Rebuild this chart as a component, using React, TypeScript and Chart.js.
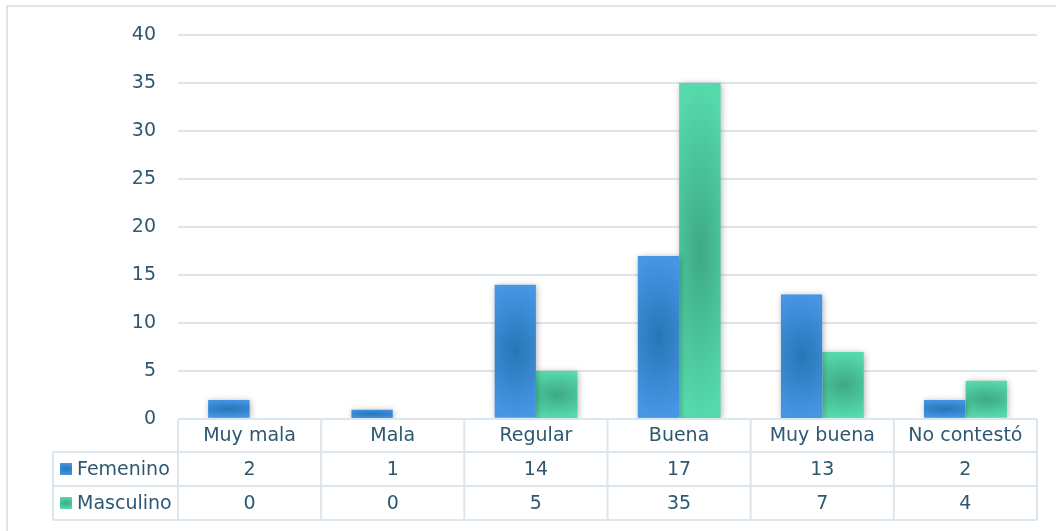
import React, { useEffect, useRef } from "react";
import { Chart, registerables } from "chart.js";

Chart.register(...registerables);

const categories = ["Muy mala", "Mala", "Regular", "Buena", "Muy buena", "No contestó"];
const seriesNames = ["Femenino", "Masculino"];
const femenino = [2, 1, 14, 17, 13, 2];
const masculino = [0, 0, 5, 35, 7, 4];
const yMin = 0;
const yMax = 40;
const yStep = 5;

const TEXT = "#2E5872";
const LINE = "#DCE6EE";
const FONT = "'DejaVu Sans', sans-serif";
const palettes = [
  { light: "#4796E6", dark: "#2676B6" },
  { light: "#56DAAC", dark: "#3DA985" },
];

function makeFill(ctx: CanvasRenderingContext2D, pal: { light: string; dark: string }, left: number, top: number, w: number, h: number) {
  const W = Math.max(1, Math.round(w));
  const H = Math.max(1, Math.round(h));
  const off = document.createElement("canvas");
  off.width = W;
  off.height = H;
  const o = off.getContext("2d")!;
  o.fillStyle = pal.light;
  o.fillRect(0, 0, W, H);
  o.save();
  o.translate(W / 2, H / 2);
  o.scale(W * 0.95, H / 2);
  const g = o.createRadialGradient(0, 0, 0, 0, 0, 1);
  g.addColorStop(0, pal.dark);
  g.addColorStop(1, pal.light);
  o.fillStyle = g;
  o.fillRect(-1, -1, 2, 2);
  o.restore();
  const p = ctx.createPattern(off, "no-repeat")!;
  p.setTransform(new DOMMatrix().translate(left, top));
  return p;
}

const barStylePlugin = {
  id: "barStyle",
  beforeDatasetsDraw(chart: any) {
    const ctx = chart.ctx;
    chart.data.datasets.forEach((_: any, di: number) => {
      const meta = chart.getDatasetMeta(di);
      meta.data.forEach((el: any) => {
        const { x, y, base, width } = el.getProps(["x", "y", "base", "width"], true);
        const top = Math.min(y, base);
        const h = Math.abs(base - y);
        if (h < 0.5) return;
        el.options.backgroundColor = makeFill(ctx, palettes[di], x - width / 2, top, width, h);
      });
    });
    ctx.save();
    ctx.shadowColor = "rgba(0,0,0,0.3)";
    ctx.shadowBlur = 6;
    ctx.shadowOffsetX = 1;
    ctx.shadowOffsetY = 1;
  },
  afterDatasetsDraw(chart: any) {
    chart.ctx.restore();
  },
};

const tablePlugin = {
  id: "dataTable",
  beforeDraw(chart: any) {
    const ctx = chart.ctx;
    ctx.save();
    ctx.strokeStyle = LINE;
    ctx.lineWidth = 2;
    ctx.beginPath();
    ctx.moveTo(7, chart.height);
    ctx.lineTo(7, 6);
    ctx.lineTo(chart.width, 6);
    ctx.stroke();
    ctx.restore();
  },
  afterDraw(chart: any) {
    const ctx = chart.ctx;
    const xs = chart.scales.x;
    const area = chart.chartArea;
    const n = categories.length;
    const colW = (area.right - area.left) / n;
    const rows = [area.bottom, area.bottom + 33, area.bottom + 67, area.bottom + 101];
    const tableLeft = 53;
    ctx.save();
    ctx.strokeStyle = LINE;
    ctx.lineWidth = 2;
    ctx.beginPath();
    ctx.moveTo(area.left, rows[0]);
    ctx.lineTo(area.right, rows[0]);
    for (let r = 1; r < rows.length; r++) {
      ctx.moveTo(tableLeft, rows[r]);
      ctx.lineTo(area.right, rows[r]);
    }
    ctx.moveTo(tableLeft, rows[1]);
    ctx.lineTo(tableLeft, rows[3]);
    for (let i = 0; i <= n; i++) {
      const xx = area.left + i * colW;
      ctx.moveTo(xx, rows[0]);
      ctx.lineTo(xx, rows[3]);
    }
    ctx.stroke();

    ctx.fillStyle = TEXT;
    ctx.font = `19px ${FONT}`;
    ctx.textBaseline = "middle";
    ctx.textAlign = "center";
    categories.forEach((c, i) => {
      const cx = xs.getPixelForValue(i);
      ctx.fillText(c, cx, (rows[0] + rows[1]) / 2 + 1);
    });
    const series = [femenino, masculino];
    series.forEach((vals, si) => {
      const cy = (rows[si + 1] + rows[si + 2]) / 2 + 1;
      vals.forEach((v, i) => {
        ctx.fillStyle = TEXT;
        ctx.textAlign = "center";
        ctx.fillText(String(v), xs.getPixelForValue(i), cy);
      });
      const sq = 12;
      ctx.fillStyle = makeFill(ctx, palettes[si], 60, cy - sq / 2 - 1, sq, sq);
      ctx.fillRect(60, cy - sq / 2 - 1, sq, sq);
      ctx.fillStyle = TEXT;
      ctx.textAlign = "left";
      ctx.fillText(seriesNames[si], 77, cy);
    });
    ctx.restore();
  },
};

export default function App() {
  const ref = useRef<HTMLCanvasElement | null>(null);
  useEffect(() => {
    document.body.style.margin = "0";
    const chart = new Chart(ref.current!, {
      type: "bar",
      data: {
        labels: categories,
        datasets: [
          { label: seriesNames[0], data: femenino, backgroundColor: () => palettes[0].light, borderWidth: 0 },
          { label: seriesNames[1], data: masculino, backgroundColor: () => palettes[1].light, borderWidth: 0 },
        ],
      },
      options: {
        responsive: false,
        animation: false,
        devicePixelRatio: 1,
        categoryPercentage: 0.58,
        barPercentage: 1,
        layout: { padding: { left: 0, top: 35, right: 19, bottom: 112 } },
        plugins: { legend: { display: false }, tooltip: { enabled: false } },
        scales: {
          x: { display: false },
          y: {
            min: yMin,
            max: yMax,
            afterFit: (s: any) => {
              s.width = 178;
            },
            ticks: { stepSize: yStep, padding: 22, color: TEXT, font: { family: FONT, size: 19 } },
            grid: { color: LINE, lineWidth: 2, drawTicks: false },
            border: { display: false },
          },
        },
      },
      plugins: [barStylePlugin, tablePlugin],
    } as any);
    return () => chart.destroy();
  }, []);
  return (
    <div style={{ width: 1056, height: 531 }}>
      <canvas ref={ref} width={1056} height={531} style={{ display: "block" }} />
    </div>
  );
}
